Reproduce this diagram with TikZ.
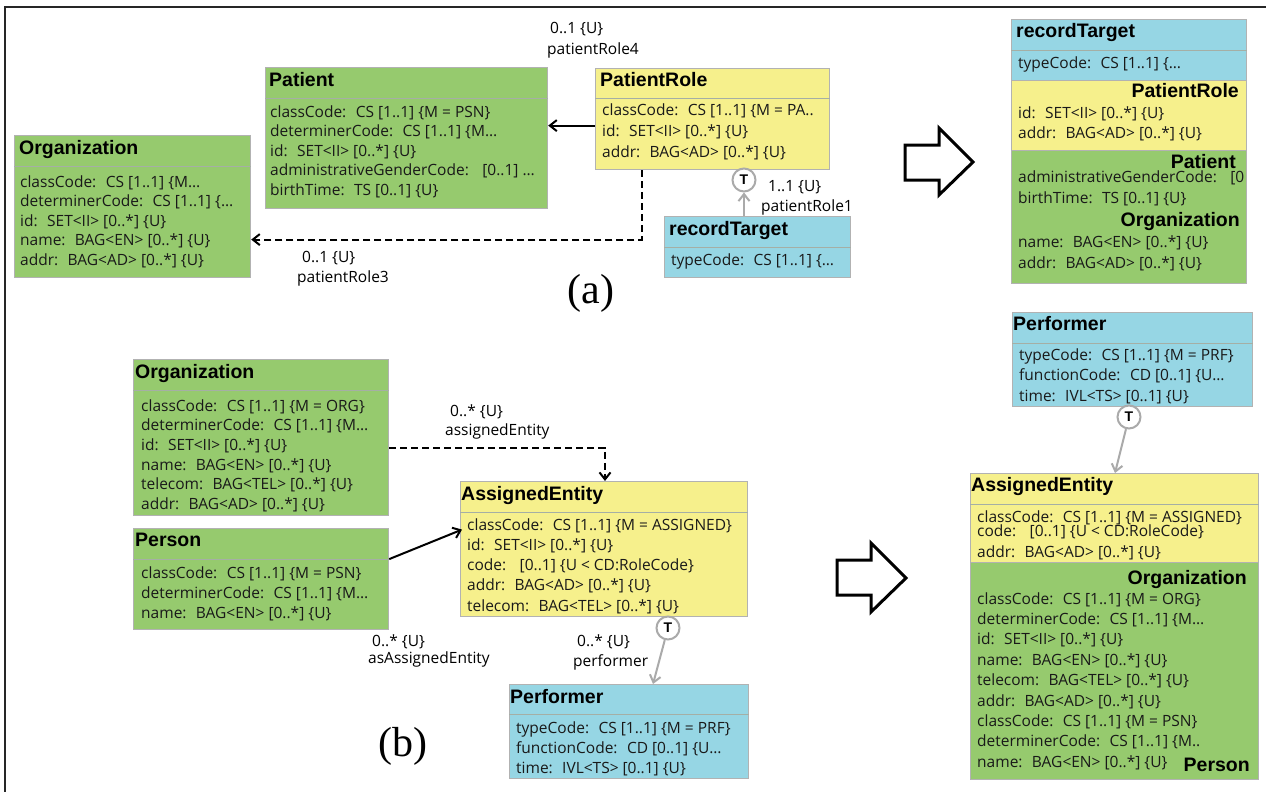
\documentclass[tikz,border=0pt]{standalone}
\usepackage{fontspec}
\setmainfont{Open Sans}
\newfontfamily\titlefont{Liberation Sans}
\newfontfamily\timesfont{Liberation Serif}
\usetikzlibrary{arrows.meta,calc}
\definecolor{boxgreen}{RGB}{150,202,110}
\definecolor{boxyellow}{RGB}{246,240,140}
\definecolor{boxblue}{RGB}{150,214,228}
\definecolor{boxborder}{RGB}{178,178,178}
\definecolor{sepcol}{RGB}{165,175,165}
\definecolor{attrtext}{RGB}{25,25,25}
\definecolor{tgray}{RGB}{170,170,170}
\newcommand\umlbox[6]{\node[classbox,fill=#6,minimum width=#4pt,minimum height=#5pt] (#1) at (#2,#3) {};}
\newcommand\umlsep[1]{\draw[sepline] ([yshift=-31pt]#1.north west) -- ([yshift=-31pt]#1.north east);}
\newcommand\attrlist[4]{\foreach \myline [count=\i from 0] in {#4} {\node[attr] at (#1,{#2+#3*\i}) {\myline};}}
\begin{document}
\begin{tikzpicture}[x=1pt,y=-1pt,
  classbox/.style={draw=boxborder,line width=1.2pt,inner sep=0pt,anchor=north west},
  sepline/.style={draw=sepcol,line width=0.8pt},
  titletext/.style={font=\titlefont\bfseries\fontsize{19.5}{22}\selectfont,anchor=base west,inner sep=0pt},
  attr/.style={font=\fontsize{15.5}{18}\selectfont,anchor=base west,inner sep=0pt,text=attrtext},
  lbl/.style={font=\fontsize{15.5}{18}\selectfont,anchor=base west,inner sep=0pt,text=black},
  tcircle/.style={circle,draw=tgray,line width=2pt,fill=white,minimum size=23pt,inner sep=0pt,
     font=\titlefont\bfseries\fontsize{14}{14}\selectfont},
  assoc/.style={draw=black,line width=2pt,-{Straight Barb[length=7pt,width=11pt,line width=2pt]}},
  dassoc/.style={assoc,dash pattern=on 7pt off 4pt},
  tassoc/.style={draw=tgray,line width=2pt,-{Straight Barb[length=7pt,width=11pt,line width=2pt]}},
  bigarrow/.style={draw=black,line width=3pt,line join=miter,fill=white},
  caption/.style={font=\timesfont\fontsize{42}{44}\selectfont,anchor=base,inner sep=0pt}
]
\useasboundingbox (0,0) rectangle (1266,792);
\fill[white] (0,0) rectangle (1266,792);
\draw[line width=2.5pt,black!85] (5,792) -- (5,7) -- (1266,7);

% ---------------- (a) ----------------
\umlbox{pat}{265}{67}{282}{141}{boxgreen}
\umlsep{pat}
\node[titletext] at (269,86) {Patient};
\attrlist{270}{117}{19.5}{classCode:~ CS [1..1] \{M = PSN\},determinerCode:~ CS [1..1] \{M…,id:~ SET<II> [0..*] \{U\},administrativeGenderCode:~~ [0..1] …,birthTime:~ TS [0..1] \{U\}}

\umlbox{orgA}{14}{135}{236}{142}{boxgreen}
\umlsep{orgA}
\node[titletext] at (19,154) {Organization};
\attrlist{20}{187}{19.6}{classCode:~ CS [1..1] \{M…,determinerCode:~ CS [1..1] \{…,id:~ SET<II> [0..*] \{U\},name:~ BAG<EN> [0..*] \{U\},addr:~ BAG<AD> [0..*] \{U\}}

\umlbox{pr}{595}{68}{234}{101}{boxyellow}
\draw[sepline] ([yshift=-30pt]pr.north west) -- ([yshift=-30pt]pr.north east);
\node[titletext] at (600,86) {PatientRole};
\attrlist{602}{115}{21}{classCode:~ CS [1..1] \{M = PA..,id:~ SET<II> [0..*] \{U\},addr:~ BAG<AD> [0..*] \{U\}}

\umlbox{rtA}{664}{216}{186}{61}{boxblue}
\umlsep{rtA}
\node[titletext] at (669,235) {recordTarget};
\node[attr] at (671,265) {typeCode:~ CS [1..1] \{…};

\node[tcircle] (tA) at (744,180) {T};

\draw[assoc] ([yshift=-6.5pt]pr.west) -- ([yshift=-6.5pt]pr.west -| pat.east);
\draw[dassoc] ([xshift=47pt]pr.south west) |- ([yshift=-33pt]orgA.east);
\draw[tassoc] (tA.south |- rtA.north) -- (tA.south);

\node[lbl] at (550,34) {0..1 \{U\}};
\node[lbl] at (547,55) {patientRole4};
\node[lbl] at (302,262) {0..1 \{U\}};
\node[lbl] at (297,282) {patientRole3};
\node[lbl] at (768,191) {1..1 \{U\}};
\node[lbl] at (761,211) {patientRole1};

\node[caption] at (591,303) {(a)};

\draw[bigarrow] (905,145) -- (939,145) -- (939,128) -- (973,162) -- (939,195) -- (939,180) -- (905,180) -- cycle;

% combined recordTarget
\umlbox{rtRb}{1011}{19}{235}{61}{boxblue}
\umlsep{rtRb}
\umlbox{rtRy}{1011}{80}{235}{70}{boxyellow}
\umlbox{rtRg}{1011}{150}{235}{133}{boxgreen}
\node[titletext] at (1016,38) {recordTarget};
\node[attr] at (1018,68) {typeCode:~ CS [1..1] \{…};
\node[titletext,anchor=base east] at (1239,97) {PatientRole};
\node[attr] at (1018,118) {id:~ SET<II> [0..*] \{U\}};
\node[attr] at (1018,138) {addr:~ BAG<AD> [0..*] \{U\}};
\node[titletext,anchor=base east] at (1236,168) {Patient};
\node[attr] at (1018,182) {administrativeGenderCode:~~ [0};
\node[attr] at (1018,203) {birthTime:~ TS [0..1] \{U\}};
\node[titletext,anchor=base east] at (1240,226) {Organization};
\node[attr] at (1018,247) {name:~ BAG<EN> [0..*] \{U\}};
\node[attr] at (1018,268) {addr:~ BAG<AD> [0..*] \{U\}};

% ---------------- (b) ----------------
\umlbox{orgB}{133}{359}{255}{156}{boxgreen}
\umlsep{orgB}
\node[titletext] at (135,378) {Organization};
\attrlist{141}{411}{19.7}{classCode:~ CS [1..1] \{M = ORG\},determinerCode:~ CS [1..1] \{M…,id:~ SET<II> [0..*] \{U\},name:~ BAG<EN> [0..*] \{U\},telecom:~ BAG<TEL> [0..*] \{U\},addr:~ BAG<AD> [0..*] \{U\}}

\umlbox{per}{133}{528}{255}{101}{boxgreen}
\umlsep{per}
\node[titletext] at (135,546) {Person};
\attrlist{141}{578}{20.3}{classCode:~ CS [1..1] \{M = PSN\},determinerCode:~ CS [1..1] \{M…,name:~ BAG<EN> [0..*] \{U\}}

\umlbox{aeB}{460}{481}{287}{135}{boxyellow}
\umlsep{aeB}
\node[titletext] at (461,500) {AssignedEntity};
\attrlist{467}{530}{20.3}{classCode:~ CS [1..1] \{M = ASSIGNED\},id:~ SET<II> [0..*] \{U\},code:~~ [0..1] \{U < CD:RoleCode\},addr:~ BAG<AD> [0..*] \{U\},telecom:~ BAG<TEL> [0..*] \{U\}}

\umlbox{perfB}{509}{684}{239}{94}{boxblue}
\draw[sepline] ([yshift=-30pt]perfB.north west) -- ([yshift=-30pt]perfB.north east);
\node[titletext] at (510,703) {Performer};
\attrlist{516}{733}{20}{typeCode:~ CS [1..1] \{M = PRF\},functionCode:~ CD [0..1] \{U…,time:~ IVL<TS> [0..1] \{U\}}

\node[tcircle] (tB) at (668,628) {T};

\draw[dassoc] ([yshift=-10pt]orgB.east) -| ([xshift=145pt]aeB.north west);
\draw[assoc] ([yshift=20pt]per.east) -- ([yshift=19.5pt,xshift=2pt]aeB.west);
\draw[tassoc] (tB) -- ([xshift=144pt]perfB.north west);

\node[lbl] at (450,416) {0..* \{U\}};
\node[lbl] at (445,435) {assignedEntity};
\node[lbl] at (372,646) {0..* \{U\}};
\node[lbl] at (368,663) {asAssignedEntity};
\node[lbl] at (577,646) {0..* \{U\}};
\node[lbl] at (573,666) {performer};

\node[caption] at (403,756) {(b)};

\draw[bigarrow] (837,560) -- (871,560) -- (871,543) -- (906,578) -- (871,612) -- (871,595) -- (837,595) -- cycle;

% combined right (b)
\umlbox{perfR}{1012}{312}{240}{94}{boxblue}
\umlsep{perfR}
\node[titletext] at (1013,330) {Performer};
\attrlist{1019}{360}{20.5}{typeCode:~ CS [1..1] \{M = PRF\},functionCode:~ CD [0..1] \{U…,time:~ IVL<TS> [0..1] \{U\}}

\umlbox{aeR}{970}{473}{288}{89}{boxyellow}
\umlsep{aeR}
\umlbox{aeRg}{970}{562}{288}{217}{boxgreen}
\node[titletext] at (971,491) {AssignedEntity};
\node[attr] at (977,522) {classCode:~ CS [1..1] \{M = ASSIGNED\}};
\node[attr] at (977,536) {code:~~ [0..1] \{U < CD:RoleCode\}};
\node[attr] at (977,557) {addr:~ BAG<AD> [0..*] \{U\}};
\node[titletext,anchor=base east] at (1247,584) {Organization};
\attrlist{977}{604}{20.4}{classCode:~ CS [1..1] \{M = ORG\},determinerCode:~ CS [1..1] \{M…,id:~ SET<II> [0..*] \{U\},name:~ BAG<EN> [0..*] \{U\},telecom:~ BAG<TEL> [0..*] \{U\},addr:~ BAG<AD> [0..*] \{U\},classCode:~ CS [1..1] \{M = PSN\},determinerCode:~ CS [1..1] \{M..,name:~ BAG<EN> [0..*] \{U\}}
\node[titletext,anchor=base east] at (1250,771) {Person};

\node[tcircle] (tR) at (1129,417) {T};
\draw[tassoc] (tR) -- ([xshift=145pt]aeR.north west);
\end{tikzpicture}
\end{document}
